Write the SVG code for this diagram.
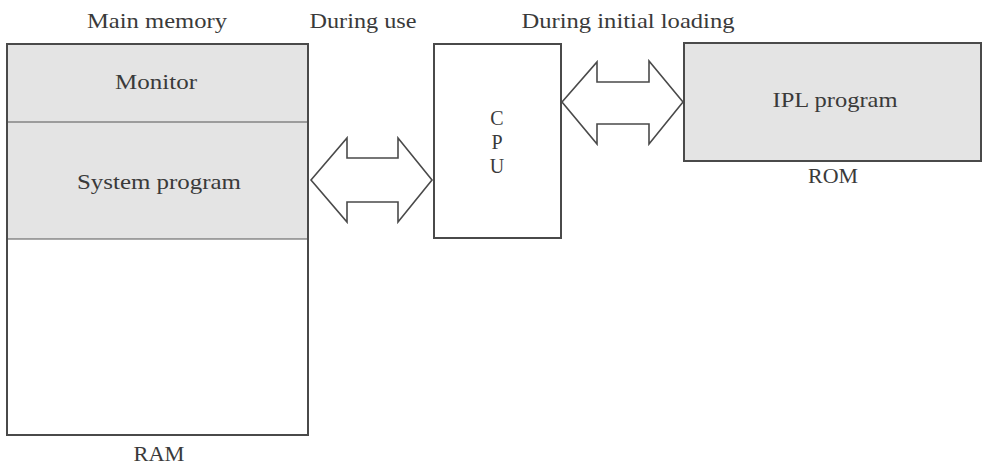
<svg xmlns="http://www.w3.org/2000/svg" width="982" height="465" viewBox="0 0 982 465">
<style>
  .box{stroke:#4a4a4a;stroke-width:2;}
  .gray{fill:#e4e4e4;}
  .white{fill:#ffffff;}
  .div{stroke:#555;stroke-width:1.2;fill:none;}
  .arrow{fill:#ffffff;stroke:#4a4a4a;stroke-width:1.6;stroke-linejoin:miter;}
  text{font-family:"Liberation Serif","Times New Roman",serif;fill:#3a3a3a;font-size:22px;text-anchor:middle;}
  .cpu{font-size:20px;}
</style>
<rect width="982" height="465" fill="#ffffff"/>
<g id="labels">
  <text x="157" y="28" textLength="140" lengthAdjust="spacingAndGlyphs">Main memory</text>
  <text x="363" y="28" textLength="107" lengthAdjust="spacingAndGlyphs">During use</text>
  <text x="628" y="28" textLength="213" lengthAdjust="spacingAndGlyphs">During initial loading</text>
</g>
<g id="ram">
  <rect class="gray" x="7" y="44" width="301" height="195"/>
  <rect class="white" x="7" y="239" width="301" height="196"/>
  <line class="div" x1="7" y1="122" x2="308" y2="122"/>
  <line class="div" x1="7" y1="239" x2="308" y2="239"/>
  <rect class="box" x="7" y="44" width="301" height="391" fill="none"/>
  <text x="156" y="89" textLength="82" lengthAdjust="spacingAndGlyphs">Monitor</text>
  <text x="159" y="189" textLength="164" lengthAdjust="spacingAndGlyphs">System program</text>
  <text x="159" y="461" textLength="51" lengthAdjust="spacingAndGlyphs">RAM</text>
</g>
<g id="cpu">
  <rect class="box" x="434" y="44" width="127" height="194" fill="#ffffff"/>
  <text class="cpu" x="497" y="125">C</text>
  <text class="cpu" x="497" y="149">P</text>
  <text class="cpu" x="497" y="173">U</text>
</g>
<g id="rom">
  <rect class="box gray" x="684" y="43" width="297" height="118"/>
  <text x="835" y="107" textLength="125" lengthAdjust="spacingAndGlyphs">IPL program</text>
  <text x="833" y="183" textLength="50" lengthAdjust="spacingAndGlyphs">ROM</text>
</g>
<g id="connectors">
  <polygon class="arrow" points="311,180 347,138 347,158 398,158 398,138 432,180 398,222 398,202 347,202 347,222"/>
  <polygon class="arrow" points="562,102 597,62 597,82 649,82 649,61 683,102 649,144 649,124 597,124 597,144"/>
</g>
</svg>
